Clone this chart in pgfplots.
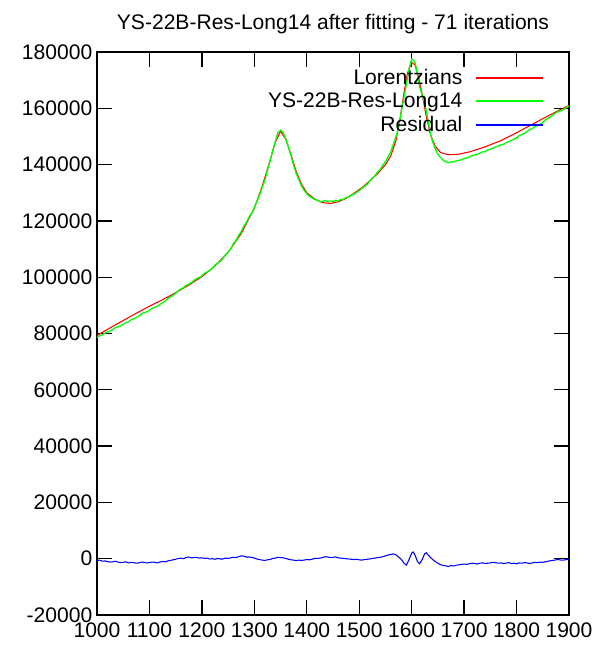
\documentclass[border=0pt]{standalone}
\usepackage{pgfplots}
\pgfplotsset{compat=1.18}
\usepackage{fontspec}
\setmainfont{Liberation Sans}
\newcommand{\gfont}{\fontsize{15.8}{18}\selectfont}
\begin{document}
\begin{tikzpicture}
\begin{axis}[
  scale only axis, width=354pt, height=422.25pt,
  xmin=1000, xmax=1900, ymin=-20000, ymax=180000,
  scaled y ticks=false, scaled x ticks=false,
  xtick={1000,1100,...,1900},
  xticklabels={1000,1100,1200,1300,1400,1500,1600,1700,1800,1900},
  ytick={-20000,0,20000,40000,60000,80000,100000,120000,140000,160000,180000},
  yticklabels={-20000,0,20000,40000,60000,80000,100000,120000,140000,160000,180000},
  tick align=inside, major tick length=11.5pt,
  tick style={black, line width=1pt},
  axis line style={line width=1pt},
  font=\gfont,
  tick label style={font=\gfont},
  xticklabel style={yshift=-2.5pt},
  title={YS-22B-Res-Long14 after fitting - 71 iterations},
  title style={font=\gfont, yshift=4pt},
  legend plot pos=right,
  legend cell align=right,
  legend style={draw=none, fill=none, at={(0.955,0.978)}, anchor=north east,
    font=\gfont, row sep=1.8pt, column sep=8pt, nodes={inner sep=1.5pt}},
  legend image code/.code={\draw[#1, line width=1.3pt] (0pt,0pt) -- (50pt,0pt);},
]
\addplot[red, line width=0.8pt] table {
x y
1000 79300
1025 82000
1050 84600
1075 87200
1100 89700
1125 92000
1150 94500
1175 97200
1200 100200
1225 104000
1250 108800
1275 115500
1300 124500
1315 132300
1330 141500
1340 148000
1350 151800
1360 149000
1370 143500
1380 137500
1390 133000
1400 130000
1415 127800
1430 126500
1445 126200
1460 126800
1475 128000
1490 129800
1505 131800
1520 134200
1535 136800
1550 140000
1560 143000
1570 148500
1578 156500
1585 165000
1592 172500
1600 176300
1606 175500
1612 172000
1620 165000
1628 157000
1636 150500
1645 146500
1655 144300
1670 143500
1690 143700
1710 144500
1740 146300
1770 148500
1800 151300
1830 154300
1860 157300
1880 159200
1900 161000
};
\addlegendentry{Lorentzians}
\addplot[color={rgb,255:red,0;green,255;blue,0}, line width=1pt] table {
x y
1000 78600
1005 79200
1010 79500
1015 80100
1020 80500
1025 80800
1030 81400
1035 82100
1040 82400
1045 82700
1050 83300
1055 83900
1060 84100
1065 84900
1070 85300
1075 85600
1080 86200
1085 87000
1090 87400
1095 87700
1100 88300
1105 88900
1110 89300
1115 89700
1120 90300
1125 91000
1130 91400
1135 92400
1140 92900
1145 93600
1150 94300
1155 95200
1160 95800
1165 96300
1170 97100
1175 97500
1180 98100
1185 98900
1190 99500
1195 99900
1200 100500
1205 101400
1210 101900
1215 102400
1220 103200
1225 104300
1230 105000
1235 105600
1240 106700
1245 108000
1250 108900
1255 110100
1260 111900
1265 113000
1270 114800
1275 116200
1280 118100
1285 119500
1290 121400
1295 122800
1300 124700
1305 127000
1310 129200
1315 131900
1320 134400
1325 138000
1330 141200
1335 144900
1340 148200
1345 151400
1350 152200
1355 151300
1360 149100
1365 146200
1370 143100
1375 139700
1380 136800
1385 134600
1390 132400
1395 130800
1400 129700
1405 128700
1410 128200
1415 127600
1420 127400
1425 126800
1430 126900
1435 127300
1440 126800
1445 127100
1450 126800
1455 127300
1460 127100
1465 127600
1470 127700
1475 128300
1480 128500
1485 129100
1490 129500
1495 130100
1500 130700
1505 131600
1510 132300
1515 133000
1520 134100
1525 135200
1530 136100
1535 137400
1540 138300
1545 139800
1550 141000
1555 142700
1560 144500
1565 147200
1570 149900
1575 153100
1580 158400
1585 163500
1590 168500
1595 174000
1600 177500
1603 177200
1607 176000
1611 171800
1615 167700
1620 164700
1625 161800
1628 159100
1632 154700
1636 150900
1640 148200
1645 145600
1650 143600
1655 142500
1660 141600
1665 141000
1670 140700
1675 141000
1680 140900
1685 141300
1690 141500
1695 141700
1700 142200
1705 142300
1710 142700
1715 143200
1720 143400
1725 143600
1730 144100
1735 144500
1740 144600
1745 145200
1750 145500
1755 145800
1760 146300
1765 146600
1770 147000
1775 147200
1780 147800
1785 148100
1790 148600
1795 149000
1800 149500
1805 150300
1810 150700
1815 151100
1820 151800
1825 152400
1830 152800
1835 153500
1840 153900
1845 154300
1850 155000
1855 155900
1860 156400
1865 157000
1870 157700
1875 158400
1880 158900
1885 159100
1890 159600
1895 160300
1900 160800
};
\addlegendentry{YS-22B-Res-Long14}
\addplot[blue, line width=0.8pt] table {
x y
1000 -700
1005 -500
1010 -900
1015 -800
1020 -1000
1025 -1200
1030 -1100
1035 -900
1040 -1200
1045 -1400
1050 -1300
1055 -1100
1060 -1500
1065 -1300
1070 -1400
1075 -1600
1080 -1500
1085 -1200
1090 -1300
1095 -1500
1100 -1400
1105 -1200
1110 -1300
1115 -1500
1120 -1200
1125 -1000
1130 -1100
1135 -800
1140 -600
1145 -400
1150 -200
1155 100
1160 200
1165 0
1170 400
1175 600
1180 300
1185 400
1190 500
1195 200
1200 300
1205 100
1210 200
1215 -100
1220 0
1225 -200
1230 100
1235 -100
1240 -100
1245 200
1250 100
1255 300
1260 500
1265 400
1270 700
1275 1000
1280 900
1285 600
1290 600
1295 500
1300 200
1305 -100
1310 -300
1315 -500
1320 -600
1325 -400
1330 -300
1335 100
1340 200
1345 500
1350 400
1355 300
1360 100
1365 -200
1370 -400
1375 -500
1380 -700
1385 -500
1390 -600
1395 -500
1400 -300
1405 -400
1410 -200
1415 100
1420 100
1425 200
1430 400
1435 700
1440 600
1445 400
1450 500
1455 600
1460 300
1465 200
1470 100
1475 0
1480 -100
1485 -200
1490 -300
1495 -200
1500 -400
1505 -500
1510 -300
1515 -200
1520 -100
1525 100
1530 200
1535 400
1540 500
1545 700
1550 1000
1555 1300
1560 1500
1565 1700
1570 1400
1575 600
1580 -200
1585 -1500
1590 -2300
1595 -300
1600 2000
1603 2400
1607 1000
1611 -1000
1615 -1800
1620 -300
1625 1800
1628 2100
1632 1200
1636 400
1640 -300
1645 -1000
1650 -1600
1655 -2100
1660 -2400
1665 -2500
1670 -2800
1675 -2400
1680 -2600
1685 -2300
1690 -2200
1695 -2000
1700 -1900
1705 -2000
1710 -1800
1715 -1600
1720 -1700
1725 -1900
1730 -1600
1735 -1500
1740 -1700
1745 -1600
1750 -1500
1755 -1300
1760 -1400
1765 -1600
1770 -1500
1775 -1700
1780 -1600
1785 -1400
1790 -1700
1795 -1600
1800 -1800
1805 -1500
1810 -1600
1815 -1400
1820 -1500
1825 -1700
1830 -1500
1835 -1300
1840 -1400
1845 -1200
1850 -1300
1855 -1100
1860 -900
1865 -700
1870 -600
1875 -400
1880 -300
1885 -500
1890 -500
1895 -300
1900 -200
};
\addlegendentry{Residual}
\end{axis}
\pgfresetboundingbox
\path (-72.75pt,-27pt) rectangle (378pt,461.25pt);
\end{tikzpicture}
\end{document}
